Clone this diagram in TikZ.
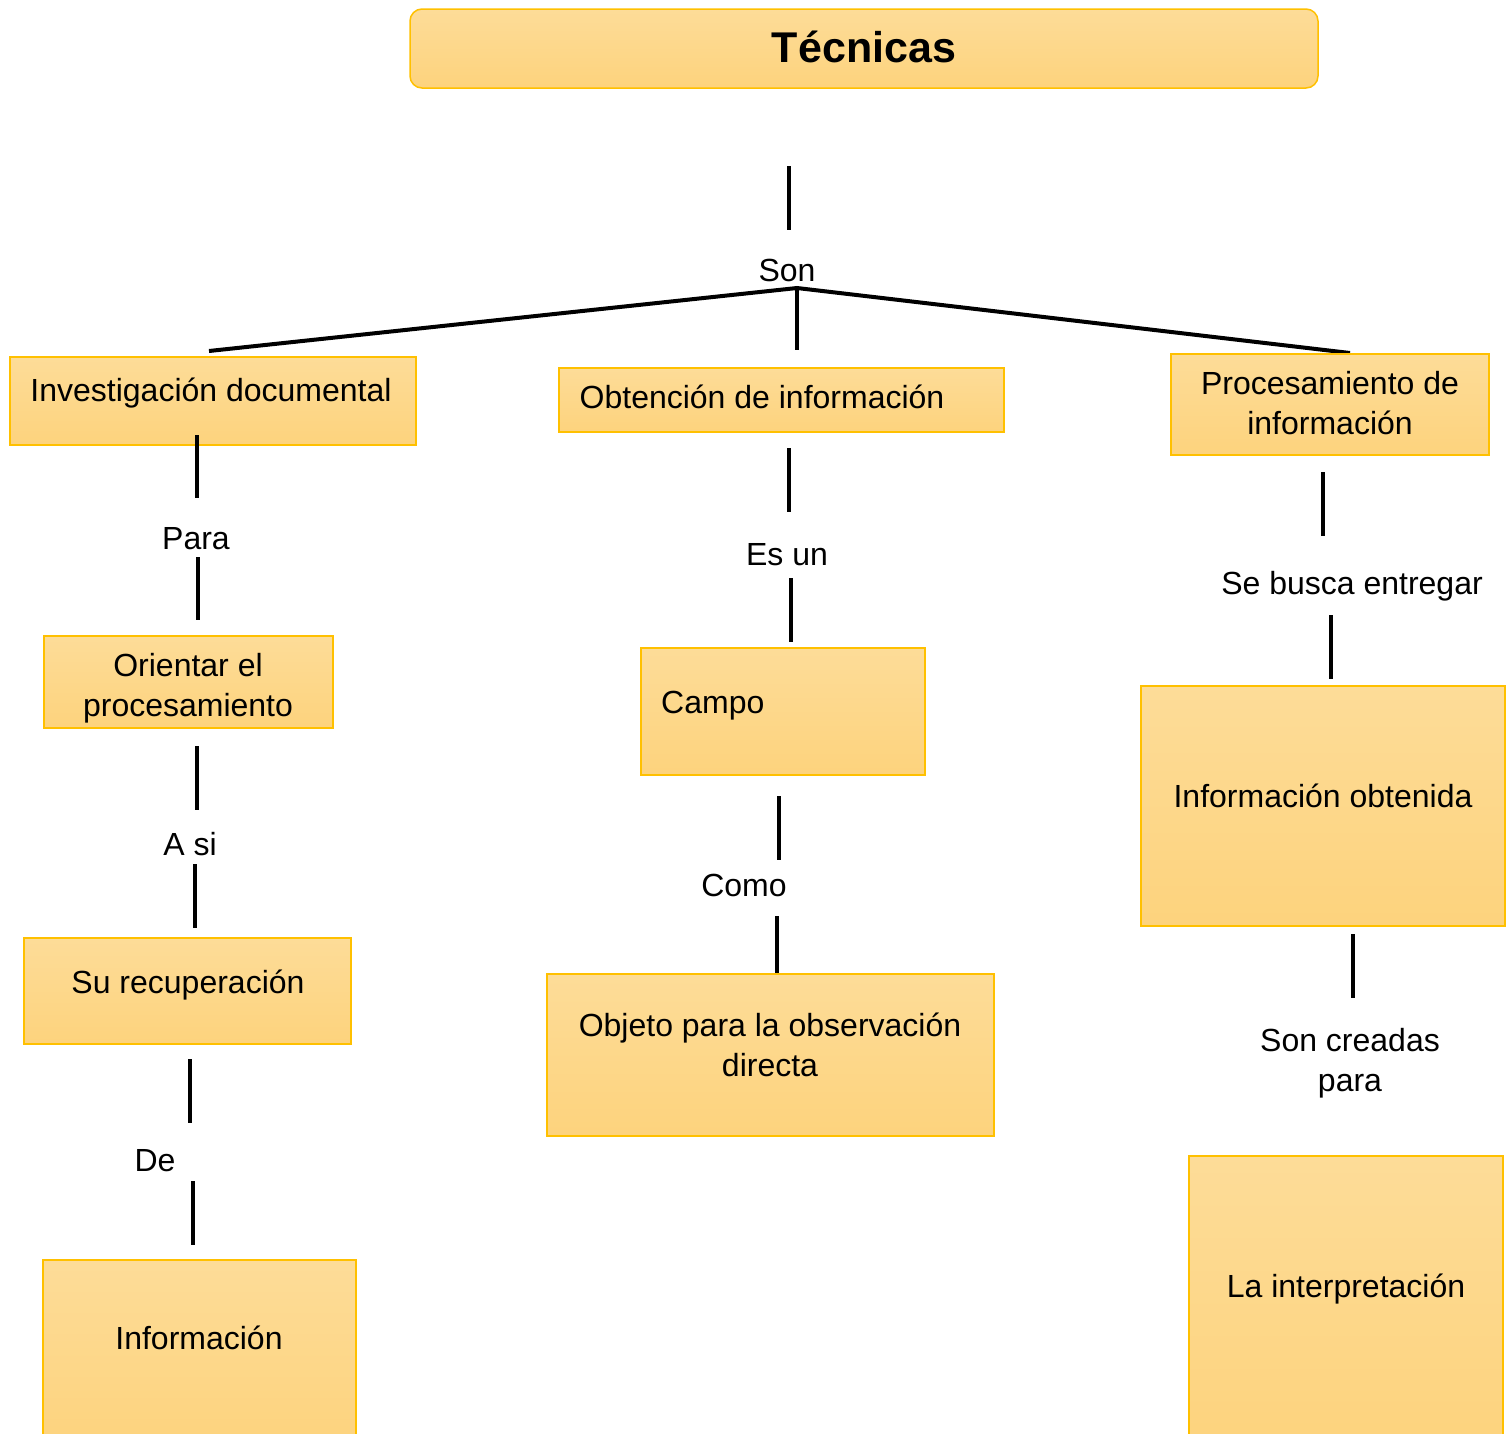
\documentclass[tikz,border=0pt]{standalone}
\usepackage{fontspec}
\setmainfont{Liberation Sans}
\usetikzlibrary{fit}
\definecolor{boxtop}{HTML}{FDDC98}
\definecolor{boxbot}{HTML}{FDD37D}
\definecolor{boxline}{HTML}{FFC000}
\begin{document}
\begin{tikzpicture}[x=1pt,y=-1pt,
  box/.style={draw=boxline, line width=1.5pt, top color=boxtop, bottom color=boxbot, inner sep=0pt},
  txt/.style={font=\fontsize{32}{40}\selectfont, anchor=base, align=center, inner sep=0pt},
  conn/.style={line width=4pt, black}]
\useasboundingbox (0,0) rectangle (1512,1433);
% Title
\node[box, rounded corners=12pt, fit={(410,9) (1318,88)}] (title) {};
\node[txt, font=\bfseries\fontsize{43}{50}\selectfont] (titletxt) at (864,62) {Técnicas};
% Son
\coordinate (t1) at (789,166); \coordinate (t2) at (789,230);
\draw[conn] (t1) -- (t2);
\node[txt] (son) at (787,281) {Son};
\coordinate (apex) at (797,288);
\coordinate (aL) at (209,351); \coordinate (aM) at (797,350); \coordinate (aR) at (1350,353);
\draw[conn] (aL) -- (apex) -- (aR);
\draw[conn] (apex) -- (aM);
% Left column
\node[box, fit={(10,357) (416,445)}] (inv) {};
\node[txt] (invtxt) at (211,401) {Investigación documental};
\coordinate (p1) at (197,435); \coordinate (p2) at (197,498);
\draw[conn] (p1) -- (p2);
\node[txt] (para) at (196,549) {Para};
\coordinate (p3) at (198,557); \coordinate (p4) at (198,620);
\draw[conn] (p3) -- (p4);
\node[box, fit={(44,636) (333,728)}] (ori) {};
\node[txt] (oritxt) at (188,716) {Orientar el\\procesamiento};
\coordinate (q1) at (197,746); \coordinate (q2) at (197,810);
\draw[conn] (q1) -- (q2);
\node[txt] (asi) at (190,855) {A si};
\coordinate (q3) at (195,864); \coordinate (q4) at (195,928);
\draw[conn] (q3) -- (q4);
\node[box, fit={(24,938) (351,1044)}] (rec) {};
\node[txt] (rectxt) at (188,993) {Su recuperación};
\coordinate (r1) at (190,1059); \coordinate (r2) at (190,1123);
\draw[conn] (r1) -- (r2);
\node[txt] (de) at (155,1171) {De};
\coordinate (r3) at (193,1181); \coordinate (r4) at (193,1245);
\draw[conn] (r3) -- (r4);
\node[box, fit={(43,1260) (356,1450)}] (inf) {};
\node[txt] (inftxt) at (199,1349) {Información};
% Middle column
\node[box, fit={(559,368) (1004,432)}] (obt) {};
\node[txt] (obttxt) at (762,408) {Obtención de información};
\coordinate (m1) at (789,448); \coordinate (m2) at (789,512);
\draw[conn] (m1) -- (m2);
\node[txt] (esun) at (787,565) {Es un};
\coordinate (m3) at (791,578); \coordinate (m4) at (791,642);
\draw[conn] (m3) -- (m4);
\node[box, fit={(641,648) (925,775)}] (campo) {};
\node[txt, anchor=base west] (campotxt) at (661,713) {Campo};
\coordinate (n1) at (779,796); \coordinate (n2) at (779,860);
\draw[conn] (n1) -- (n2);
\node[txt] (como) at (744,896) {Como};
\coordinate (n3) at (777,916); \coordinate (n4) at (777,980);
\draw[conn] (n3) -- (n4);
\node[box, fit={(547,974) (994,1136)}] (obj) {};
\node[txt] (objtxt) at (770,1076) {Objeto para la observación\\directa};
% Right column
\node[box, fit={(1171,354) (1489,455)}] (pro) {};
\node[txt] (protxt) at (1330,434) {Procesamiento de\\información};
\coordinate (u1) at (1323,472); \coordinate (u2) at (1323,536);
\draw[conn] (u1) -- (u2);
\node[txt] (seb) at (1352,594) {Se busca entregar};
\coordinate (u3) at (1331,615); \coordinate (u4) at (1331,679);
\draw[conn] (u3) -- (u4);
\node[box, fit={(1141,686) (1505,926)}] (iob) {};
\node[txt] (iobtxt) at (1323,807) {Información obtenida};
\coordinate (v1) at (1353,934); \coordinate (v2) at (1353,998);
\draw[conn] (v1) -- (v2);
\node[txt] (scp) at (1350,1091) {Son creadas\\para};
\node[box, fit={(1189,1156) (1503,1450)}] (int) {};
\node[txt] (inttxt) at (1346,1297) {La interpretación};
\end{tikzpicture}
\end{document}
